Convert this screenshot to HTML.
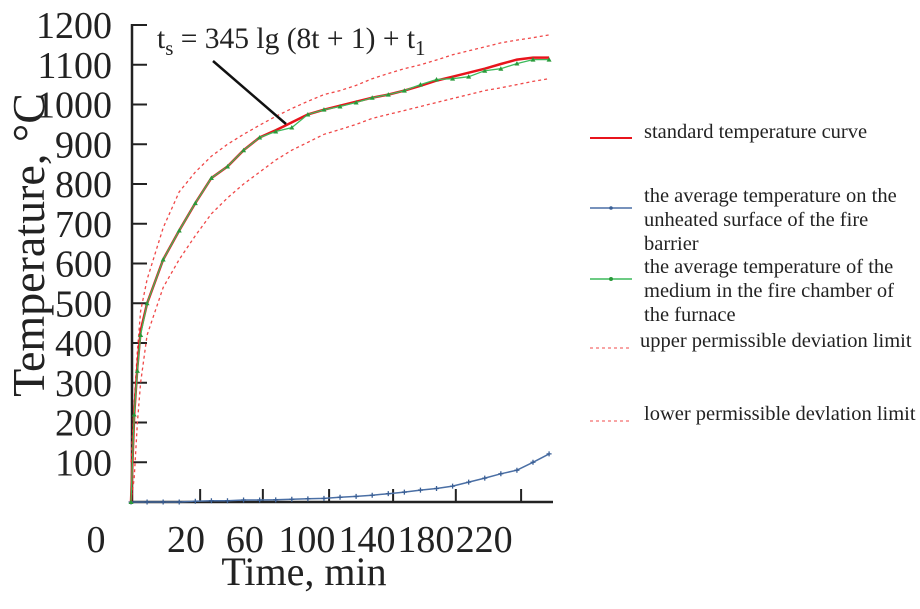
<!DOCTYPE html>
<html><head><meta charset="utf-8"><style>
body{margin:0;background:#fff;}
svg{display:block;font-family:"Liberation Serif",serif;}
</style></head><body>
<svg id="chart" width="920" height="609" viewBox="0 0 920 609">
<g id="axes"></g>
<g id="series"></g>
<text x="157" y="48" font-size="29.5" fill="#222">t<tspan font-size="21" dy="7">s</tspan><tspan dy="-7"> = 345 lg (8t + 1) + t</tspan><tspan font-size="21" dy="7">1</tspan></text>
<line x1="213" y1="61" x2="286" y2="124" stroke="#111" stroke-width="2.5"/>
<text x="304" y="585" font-size="40" text-anchor="middle" fill="#222">Time, min</text>
<text transform="translate(44,245) rotate(-90)" font-size="46" text-anchor="middle" fill="#222">Temperature, °C</text>
<g id="legend" font-size="20.5" fill="#222">
 <g>
  <line x1="590" y1="138" x2="632" y2="138" stroke="#e8141c" stroke-width="2"/>
  <text x="644" y="138">standard temperature curve</text></g>
 <g>
  <line x1="590" y1="208" x2="632" y2="208" stroke="#4a6fa5" stroke-width="1.5"/>
  <circle cx="611" cy="208" r="1.8" fill="#3a5f95"/>
  <text x="644" y="202">the average temperature on the</text>
  <text x="644" y="226">unheated surface of the fire</text>
  <text x="644" y="250">barrier</text></g>
 <g>
  <line x1="590" y1="279" x2="632" y2="279" stroke="#3cba5a" stroke-width="1.5"/>
  <circle cx="611" cy="279" r="2" fill="#2a9a3a"/>
  <text x="644" y="273">the average temperature of the</text>
  <text x="644" y="297">medium in the fire chamber of</text>
  <text x="644" y="321">the furnace</text></g>
 <g>
  <line x1="590" y1="348" x2="630" y2="348" stroke="#f04848" stroke-width="1" stroke-dasharray="3,3"/>
  <text x="640" y="347">upper permissible deviation limit</text></g>
 <g>
  <line x1="590" y1="421" x2="630" y2="421" stroke="#f04848" stroke-width="1" stroke-dasharray="3,3"/>
  <text x="644" y="420">lower permissible devlation limit</text></g>
</g>
</svg>
<script>
const times=[0,5,10,15,20,25,30,35,40,45,50,55,60,65,70,75,80,85,90,95,100,105,110,115,120,125,130];
const standardT=[0,1,2,3,5,10,15,20,25,30,35,40,45,50,55,60,65,70,75,80,85,90,95,100,105,110,115,120,125,130];
const standardV=[0,220,340,430,500,610,683,752,815,844,885,917,935,955,975,987,997,1007,1017,1025,1035,1047,1060,1070,1080,1090,1102,1113,1118,1118];
const furnaceT=[0,1,2,3,5,10,15,20,25,30,35,40,45,50,55,60,65,70,75,80,85,90,95,100,105,110,115,120,125,130];
const furnaceV=[0,220,330,420,500,610,683,752,815,844,885,917,932,942,975,987,995,1005,1017,1025,1035,1050,1063,1065,1070,1085,1090,1103,1113,1113];
const unheatedV=[0,0,0,0,2,3,3,5,5,5.5,7,8,9,12,14,17,21,25,30,34,40,50,60,71,80,100,121];
const upperT=[0,1,2,3,5,10,15,20,25,30,35,40,45,50,55,60,65,70,75,80,85,90,95,100,105,110,115,120,125,130];
const upperV=[100,250,380,480,560,690,780,830,870,900,925,948,970,990,1008,1025,1035,1048,1065,1078,1090,1100,1112,1125,1135,1145,1155,1162,1168,1175];
const lowerV=[0,60,200,300,420,540,610,670,725,765,800,830,860,885,905,925,937,950,965,975,985,995,1005,1015,1025,1035,1042,1050,1058,1065];
const yTicks=[100,200,300,400,500,600,700,800,900,1000,1100,1200];
const xTickAt=[21.5,41,61.6,81.5,101,121.3];
const xLabels=["0","20","60","100","140","180","220"];
const xLabelAt=[-10.9,17.1,35.4,54.7,73.4,91.7,109.8];

const NS="http://www.w3.org/2000/svg";
const X=t=>131+t*16.08/5;
const Y=v=>502-v*0.3975;
function mk(tag,attrs,parent){const e=document.createElementNS(NS,tag);for(const k in attrs)e.setAttribute(k,attrs[k]);parent.appendChild(e);return e;}
const axes=document.getElementById('axes'), ser=document.getElementById('series');

let a=mk('line',{x1:132,y1:Y(0),x2:553,y2:Y(0),stroke:'#222','stroke-width':2.5},axes);


a=mk('line',{x1:132,y1:Y(0)+1,x2:132,y2:Y(1200)-1,stroke:'#222','stroke-width':2.5},axes);


yTicks.forEach(v=>{
  const t=mk('line',{x1:132,y1:Y(v),x2:147,y2:Y(v),stroke:'#222','stroke-width':2},axes);
  
  
  const l=mk('text',{x:112,y:Y(v)+13,'font-size':38,'text-anchor':'end',fill:'#222'},axes);
  l.textContent=v;
  
  
});
xTickAt.forEach(t=>{
  const e=mk('line',{x1:X(t),y1:Y(0),x2:X(t),y2:Y(0)-13,stroke:'#222','stroke-width':2},axes);
  
  
});
xLabels.forEach((s,i)=>{
  const l=mk('text',{x:X(xLabelAt[i]),y:552,'font-size':38,'text-anchor':'middle',fill:'#222'},axes);
  l.textContent=s;
  
  
});
function pts(ts,vs){return ts.map((t,i)=>X(t).toFixed(1)+','+Y(vs[i]).toFixed(1)).join(' ');}
let p=mk('polyline',{points:pts(upperT,upperV),fill:'none',stroke:'#f04848','stroke-width':1.3,'stroke-dasharray':'3,3'},ser);


p=mk('polyline',{points:pts(upperT,lowerV),fill:'none',stroke:'#f04848','stroke-width':1.3,'stroke-dasharray':'3,3'},ser);


p=mk('polyline',{points:pts(times,unheatedV),fill:'none',stroke:'#4a6fa5','stroke-width':1.5},ser);


times.forEach((t,i)=>{
  const m=mk('path',{d:`M${X(t)-2.5},${Y(unheatedV[i])}h5M${X(t)},${Y(unheatedV[i])-2.5}v5`,stroke:'#3a5f95','stroke-width':1.3},ser);
  
  
});
p=mk('polyline',{points:pts(standardT,standardV),fill:'none',stroke:'#e8141c','stroke-width':2.5},ser);


p=mk('polyline',{points:pts(furnaceT,furnaceV),fill:'none',stroke:'#3cba5a','stroke-width':1.3},ser);


furnaceT.forEach((t,i)=>{
  const x=X(t),y=Y(furnaceV[i]);
  const m=mk('path',{d:`M${x-2.5},${y+2}L${x},${y-2.5}L${x+2.5},${y+2}Z`,fill:'#2a9a3a'},ser);
  
  
});
</script>
</body></html>
